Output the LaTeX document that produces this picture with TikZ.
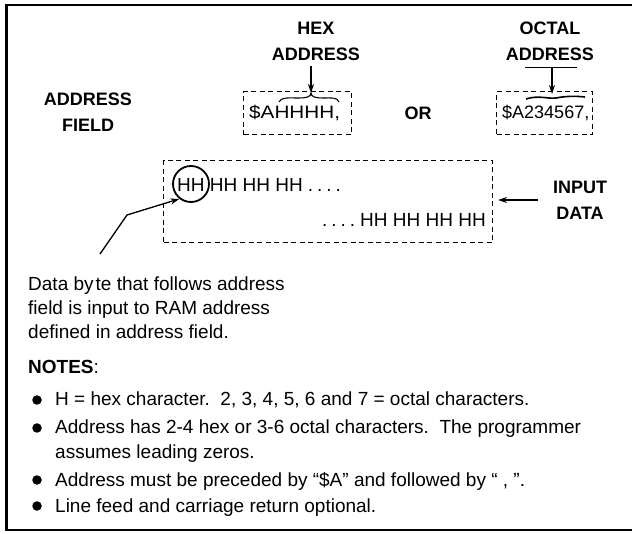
\documentclass[tikz,border=0pt]{standalone}
\usepackage{fontspec}
\setmainfont{Liberation Sans}
\usetikzlibrary{arrows.meta}
\begin{document}
\begin{tikzpicture}[x=1pt,y=-1pt,
  lbl/.style={font=\fontsize{18}{20}\selectfont\bfseries, inner sep=0pt, anchor=base},
  txt/.style={font=\fontsize{19}{24}\selectfont, inner sep=0pt, anchor=base west},
  dbox/.style={draw, dash pattern=on 5pt off 3.5pt, line width=1.1pt, inner sep=0pt},
  arr/.style={-{Stealth[length=9pt,width=6pt]}, line width=1.3pt},
  bul/.style={circle, fill, inner sep=0pt, minimum size=9.5pt}]
\useasboundingbox (0,0) rectangle (632,534);
% frame
\draw[line width=3pt] (6,4) -- (6,531);
\draw[line width=2pt] (5,5) -- (632,5);
\draw[line width=1.2pt] (5,530) -- (632,530);

% address field label
\node[lbl] (af1) at (88,106) {ADDRESS};
\node[lbl] (af2) at (88,132) {FIELD};

% hex address
\node[lbl] (hex1) at (316,35) {HEX};
\node[lbl] (hex2) at (316,61) {ADDRESS};
\node[dbox, minimum width=108pt, minimum height=43pt, anchor=north west] (hexbox) at (243,91) {};
\node[txt, font=\fontsize{18}{20}\selectfont] (hext) at (249,119) {\scalebox{1.15}[1]{\$AHHHH,}};
\draw[line width=1.1pt] (279,102) .. controls (281,97) and (288,98) .. (299,98)
   .. controls (306,98) and (311,97) .. (311,93)
   .. controls (311,97) and (316,98) .. (323,98)
   .. controls (332,98) and (337,97) .. (339,102);
\coordinate (hexs) at (311,66);
\coordinate (hext2) at (311,93);
\draw[arr] (hexs) -- (hext2);

% or
\node[lbl] (or) at (418,120) {OR};

% octal address
\node[lbl] (oct1) at (550,35) {OCTAL};
\node[lbl] (oct2) at (550,61) {ADDRESS};
\coordinate (ol1) at (525,68);
\coordinate (ol2) at (577,68);
\draw[line width=1pt] (ol1) -- (ol2);
\coordinate (os) at (552,68);
\coordinate (ot) at (552,94);
\draw[arr] (os) -- (ot);
\node[dbox, minimum width=96pt, minimum height=43pt, anchor=north west] (octbox) at (496,91) {};
\draw[line width=1.6pt] (526,99) .. controls (538,95) and (548,99) .. (556,98)
   .. controls (566,96) and (576,96) .. (585,97);
\node[txt, font=\fontsize{18}{20}\selectfont] (octt) at (502,119) {\$A234567,};

% input data
\node[dbox, minimum width=329pt, minimum height=82pt, anchor=north west] (databox) at (163,160) {};
\node[txt] (row1) at (177,192) {HH HH HH HH\hspace{5pt}.\hspace{4pt}.\hspace{4pt}.\hspace{4pt}.};
\node[txt, anchor=base east] (row2) at (486,227) {.\hspace{4pt}.\hspace{4pt}.\hspace{4pt}.\hspace{5pt}HH HH HH HH};
\node[draw, circle, line width=1.8pt, minimum size=36pt, inner sep=0pt] (circ) at (191,184) {};
\node[lbl] (in1) at (580,194) {INPUT};
\node[lbl] (in2) at (580,220) {DATA};
\coordinate (ins) at (538,200);
\coordinate (ine) at (498,200);
\draw[arr] (ins) -- (ine);

% leader
\coordinate (l0) at (100,254);
\coordinate (l1) at (127,215);
\draw[arr] (l0) -- (l1) -- (circ.232);

% description
\node[txt] (d1) at (28,291) {Data by\kern2pt te that follows address};
\node[txt] (d2) at (28,315) {field is input to RAM address};
\node[txt] (d3) at (28,339) {defined in address field.};

% notes
\node[txt] (notes) at (28,374) {\textbf{NOTES}:};
\node[bul] (b1) at (37,400) {};
\node[txt] (n1) at (55,406) {H = hex character.\ \ 2, 3, 4, 5, 6 and 7 = octal characters.};
\node[bul] (b2) at (37,428) {};
\node[txt] (n2) at (55,434) {Address has 2-4 hex or 3-6 octal characters.\ \ The programmer};
\node[txt] (n2b) at (55,458) {assumes leading zeros.};
\node[bul] (b3) at (37,480) {};
\node[txt] (n3) at (55,486) {Address must be preceded by “\$A” and followed by “ , ”.};
\node[bul] (b4) at (37,506) {};
\node[txt] (n4) at (55,512) {Line feed and carriage return optional.};
\end{tikzpicture}
\end{document}
